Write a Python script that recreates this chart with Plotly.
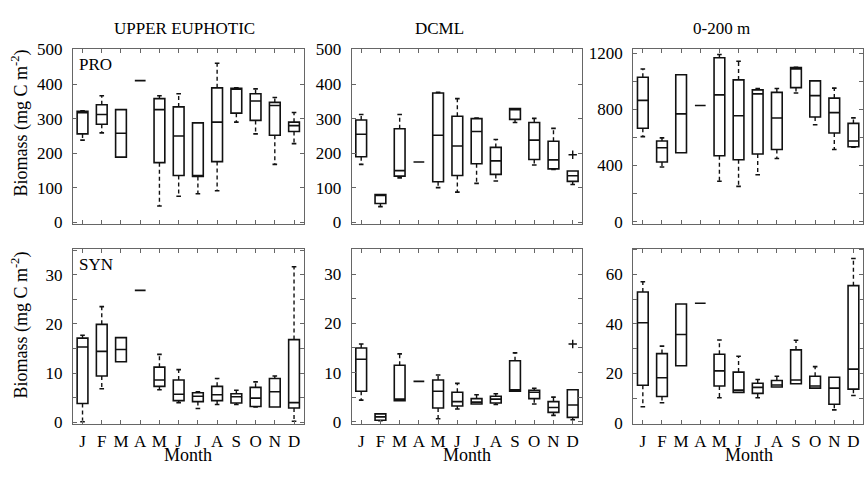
import plotly.graph_objects as go

months = [1, 2, 3, 4, 5, 6, 7, 8, 9, 10, 11, 12]
month_labels = ["J", "F", "M", "A", "M", "J", "J", "A", "S", "O", "N", "D"]
col_titles = ["UPPER EUPHOTIC", "DCML", "0-200 m"]
row_labels = ["PRO", "SYN"]

# PRO, upper euphotic
pro_ue_lo = [238, 259, 189, 410, 48, 76, 83, 92, 290, 256, 168, 228]
pro_ue_q1 = [256, 284, 189, 410, 173, 136, 133, 176, 316, 295, 252, 263]
pro_ue_med = [317, 312, 258, 410, 326, 250, 136, 290, 385, 351, 338, 280]
pro_ue_q3 = [321, 340, 326, 410, 358, 334, 288, 389, 388, 372, 347, 290]
pro_ue_hi = [323, 366, 326, 410, 366, 372, 288, 460, 389, 386, 361, 318]
pro_ue_out = []

# PRO, DCML
pro_dc_lo = [168, 46, 129, 175, 101, 88, 113, 120, 289, 166, 153, 110]
pro_dc_q1 = [190, 55, 134, 175, 118, 136, 170, 139, 298, 182, 155, 119]
pro_dc_med = [255, 78, 150, 175, 252, 221, 263, 178, 326, 238, 181, 135]
pro_dc_q3 = [296, 81, 271, 175, 374, 307, 300, 217, 329, 289, 235, 149]
pro_dc_hi = [312, 81, 312, 175, 376, 358, 302, 240, 329, 301, 272, 149]
pro_dc_out = [(12, 196)]

# PRO, 0-200 m
pro_int_lo = [606, 389, 491, 827, 288, 251, 334, 450, 917, 690, 514, 530]
pro_int_q1 = [665, 425, 491, 827, 469, 441, 482, 514, 955, 745, 632, 533]
pro_int_med = [864, 526, 768, 827, 903, 754, 910, 738, 1088, 898, 777, 575]
pro_int_q3 = [1029, 574, 1047, 827, 1168, 1010, 939, 921, 1098, 1003, 880, 700]
pro_int_hi = [1088, 597, 1047, 827, 1191, 1143, 949, 949, 1099, 1003, 951, 739]
pro_int_out = []

# SYN, upper euphotic
syn_ue_lo = [0.1, 6.8, 12.3, 26.8, 6.6, 4.0, 2.8, 3.6, 3.6, 3.1, 3.1, 0.2]
syn_ue_q1 = [3.8, 9.4, 12.3, 26.8, 7.3, 4.4, 4.2, 4.4, 3.9, 3.2, 3.1, 2.9]
syn_ue_med = [15.3, 14.4, 14.8, 26.8, 8.6, 5.7, 5.3, 5.6, 5.2, 4.9, 6.2, 4.0]
syn_ue_q3 = [17.1, 19.9, 17.2, 26.8, 11.2, 8.6, 6.0, 7.3, 5.8, 7.1, 8.9, 16.8]
syn_ue_hi = [17.7, 23.5, 17.2, 26.8, 13.8, 10.7, 6.2, 8.9, 6.5, 8.2, 9.4, 31.6]
syn_ue_out = []

# SYN, DCML
syn_dc_lo = [4.4, 0.2, 4.3, 8.2, 0.6, 2.6, 3.6, 3.5, 6.2, 3.6, 1.3, 0.4]
syn_dc_q1 = [6.2, 0.3, 4.3, 8.2, 2.8, 3.2, 3.6, 3.8, 6.2, 4.7, 1.9, 0.9]
syn_dc_med = [12.7, 1.0, 4.6, 8.2, 6.2, 4.1, 4.0, 4.6, 6.5, 6.0, 2.9, 3.4]
syn_dc_q3 = [15.0, 1.6, 11.5, 8.2, 8.5, 6.0, 4.7, 5.2, 12.4, 6.4, 4.1, 6.5]
syn_dc_hi = [15.8, 1.6, 13.8, 8.2, 9.5, 7.8, 5.5, 5.7, 14.0, 6.8, 5.0, 6.5]
syn_dc_out = [(12, 15.8)]

# SYN, 0-200 m
syn_int_lo = [6.5, 8.1, 23.1, 48.4, 10.1, 12.3, 10.1, 14.5, 15.8, 14.0, 5.2, 11.0]
syn_int_q1 = [15.2, 10.6, 23.1, 48.4, 14.9, 12.3, 11.9, 14.5, 15.8, 14.0, 7.5, 13.6]
syn_int_med = [40.5, 18.2, 35.7, 48.4, 21.0, 13.2, 14.3, 15.3, 17.3, 14.9, 14.0, 21.7]
syn_int_q3 = [52.9, 28.0, 48.1, 48.4, 27.7, 20.5, 16.0, 17.1, 29.5, 18.8, 18.4, 55.5]
syn_int_hi = [57.1, 31.0, 48.1, 48.4, 33.5, 26.9, 17.5, 18.8, 33.4, 22.7, 18.4, 66.5]
syn_int_out = []

panels = [
    (pro_ue_lo, pro_ue_q1, pro_ue_med, pro_ue_q3, pro_ue_hi, pro_ue_out),
    (pro_dc_lo, pro_dc_q1, pro_dc_med, pro_dc_q3, pro_dc_hi, pro_dc_out),
    (pro_int_lo, pro_int_q1, pro_int_med, pro_int_q3, pro_int_hi, pro_int_out),
    (syn_ue_lo, syn_ue_q1, syn_ue_med, syn_ue_q3, syn_ue_hi, syn_ue_out),
    (syn_dc_lo, syn_dc_q1, syn_dc_med, syn_dc_q3, syn_dc_hi, syn_dc_out),
    (syn_int_lo, syn_int_q1, syn_int_med, syn_int_q3, syn_int_hi, syn_int_out),
]

W, H = 864, 477
FONT = "Liberation Serif, Times New Roman, DejaVu Serif, serif"
BOX_W = 0.56
CAP = 0.12
INK = "#111111"
FRAME = "#666666"

col_px = [(73, 304), (352, 583), (634, 864)]
row_px = [(42, 223), (249, 431)]
y_ranges = [[-3, 500], [-3, 500], [-14, 1227], [-0.3, 35.3], [-0.4, 35.2], [-0.4, 70.5]]
y_ticks = [
    (list(range(0, 501, 100)), [str(v) for v in range(0, 501, 100)]),
    (list(range(0, 501, 100)), [str(v) for v in range(0, 501, 100)]),
    (list(range(0, 1201, 200)), [str(v) if v % 400 == 0 else "" for v in range(0, 1201, 200)]),
    (list(range(0, 36, 5)), [str(v) if v % 10 == 0 else "" for v in range(0, 36, 5)]),
    (list(range(0, 36, 5)), [str(v) if v % 10 == 0 else "" for v in range(0, 36, 5)]),
    (list(range(0, 71, 10)), [str(v) if v % 20 == 0 else "" for v in range(0, 71, 10)]),
]

fig = go.Figure()
layout = dict(
    width=W, height=H, autosize=False,
    margin=dict(l=0, r=0, t=0, b=0),
    paper_bgcolor="white", plot_bgcolor="white",
    showlegend=False,
    font=dict(family=FONT, size=17, color="black"),
)

for i, (lo, q1, med, q3, hi, out) in enumerate(panels):
    r, c = divmod(i, 3)
    k = "" if i == 0 else str(i + 1)
    xa, ya = "x" + k, "y" + k
    # boxes with medians
    fig.add_trace(go.Box(
        x=months, q1=q1, median=med, q3=q3, lowerfence=q1, upperfence=q3,
        width=BOX_W, whiskerwidth=0, fillcolor="rgba(255,255,255,0)",
        line=dict(color=INK, width=1.6), boxpoints=False, hoverinfo="skip",
        xaxis=xa, yaxis=ya,
    ))
    # dashed whiskers and caps
    wx, wy = [], []
    cx, cy = [], []
    for m, l_, a, b, h_ in zip(months, lo, q1, q3, hi):
        if h_ > b:
            wx += [m, m, None]
            wy += [b, h_, None]
            cx += [m - CAP, m + CAP, None]
            cy += [h_, h_, None]
        if l_ < a:
            wx += [m, m, None]
            wy += [a, l_, None]
            cx += [m - CAP, m + CAP, None]
            cy += [l_, l_, None]
    fig.add_trace(go.Scatter(x=wx, y=wy, mode="lines", xaxis=xa, yaxis=ya,
                             line=dict(color=INK, width=1.4, dash="4px,3px"),
                             hoverinfo="skip"))
    fig.add_trace(go.Scatter(x=cx, y=cy, mode="lines", xaxis=xa, yaxis=ya,
                             line=dict(color=INK, width=1.6), hoverinfo="skip"))
    if out:
        fig.add_trace(go.Scatter(x=[o[0] for o in out], y=[o[1] for o in out],
                                 mode="markers", xaxis=xa, yaxis=ya,
                                 marker=dict(symbol="cross-thin", size=6,
                                             line=dict(color=INK, width=1.4)),
                                 hoverinfo="skip"))
    x0, x1 = col_px[c]
    y0, y1 = row_px[r]
    axis_common = dict(showline=True, linecolor=FRAME, linewidth=1, mirror="ticks",
                       ticks="inside", ticklen=4, tickcolor=FRAME, tickwidth=1,
                       showgrid=False, zeroline=False, fixedrange=True,
                       ticklabeloverflow="allow")
    layout["xaxis" + k] = dict(
        axis_common, domain=[x0 / W, x1 / W], range=[0.5, 12.5], anchor=ya,
        tickmode="array", tickvals=months, ticktext=month_labels,
        showticklabels=(r == 1), ticklabelstandoff=2,
        tickfont=dict(family=FONT, size=17, color="black"),
    )
    tv, tt = y_ticks[i]
    layout["yaxis" + k] = dict(
        axis_common, domain=[1 - y1 / H, 1 - y0 / H], range=y_ranges[i], anchor=xa,
        tickmode="array", tickvals=tv, ticktext=tt, ticklabelstandoff=6,
        tickfont=dict(family=FONT, size=17, color="black"),
    )

annotations = []
title_x = [185, 440, 722]
for t, xc in zip(col_titles, title_x):
    annotations.append(dict(text=t, x=xc / W, y=1 - 20 / H, xref="paper", yref="paper",
                            xanchor="center", yanchor="middle", showarrow=False,
                            font=dict(family=FONT, size=17, color="black")))
for lab, yc in zip(row_labels, [58, 266]):
    annotations.append(dict(text=lab, x=77 / W, y=1 - yc / H, xref="paper", yref="paper",
                            xanchor="left", yanchor="middle", showarrow=False,
                            font=dict(family=FONT, size=17, color="black")))
for yc in [118, 328]:
    annotations.append(dict(text="Biomass (mg C m<sup>-2</sup>)", x=20 / W, y=1 - yc / H,
                            xref="paper", yref="paper", xanchor="center", yanchor="middle",
                            textangle=-90, showarrow=False,
                            font=dict(family=FONT, size=18, color="black")))
for (x0, x1) in col_px:
    xc = (x0 + max(x1, 865)) / 2 if x1 >= 864 else (x0 + x1) / 2
    annotations.append(dict(text="Month", x=xc / W, y=1 - 463 / H, xref="paper", yref="paper",
                            xanchor="center", yanchor="middle", showarrow=False,
                            font=dict(family=FONT, size=18, color="black")))
layout["annotations"] = annotations

fig.update_layout(**layout)
fig.write_html("out.html", config={"displayModeBar": False},
               post_script="document.body.style.margin='0';document.body.style.padding='0';")
